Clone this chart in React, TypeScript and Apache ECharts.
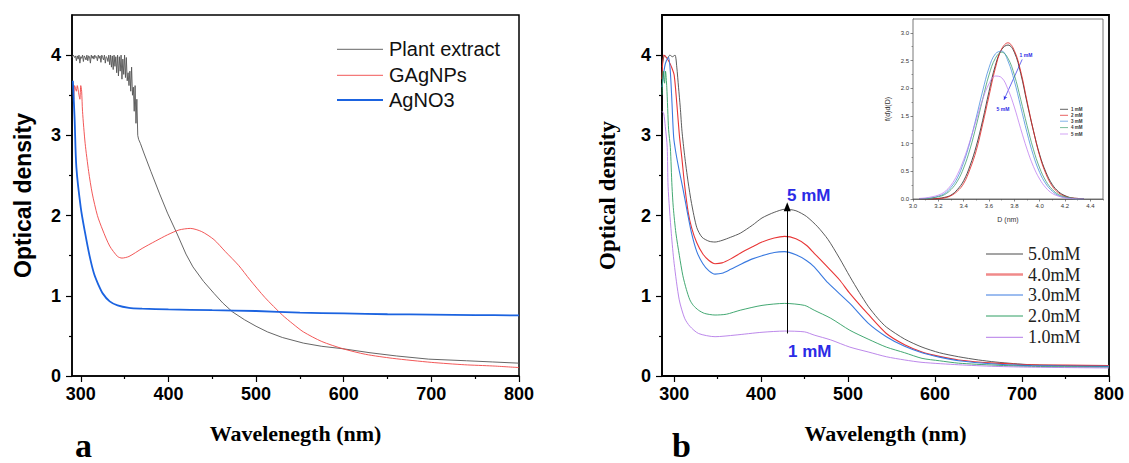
import React, { useEffect, useRef } from "react";
import * as echarts from "echarts";

const SANS = "'Liberation Sans', Arial, sans-serif";
const SERIF = "'Liberation Serif', 'Times New Roman', serif";

// ---------- Panel a ----------
const wlPlant = [290, 291.5, 293, 294, 295, 296, 297, 298, 299, 300, 301, 302, 303, 304, 305, 306, 307, 308, 309, 310, 311, 312, 313, 314, 315, 316, 317, 318, 319, 320, 321, 322, 323, 324, 325, 326, 327, 328, 329, 330, 331, 332, 333, 334, 335, 336, 337, 338, 339, 340, 341, 342, 343, 344, 345, 346, 347, 348, 349, 350, 351, 352, 353, 354, 355, 356, 357, 358, 359, 360, 361, 362, 363, 364, 365, 366, 368, 372, 380, 390, 399, 410, 420, 428, 440, 452, 462, 473, 487, 500, 513, 530, 554, 575, 599, 630, 660, 697, 740, 770, 800];
const odPlant = [3.97, 4.0, 3.97, 3.99, 3.93, 3.99, 3.95, 4.0, 3.9, 3.98, 3.96, 4.0, 3.92, 3.99, 3.97, 3.94, 4.0, 3.93, 3.99, 3.98, 3.9, 4.0, 3.96, 3.99, 3.95, 4.0, 3.97, 3.98, 3.93, 4.0, 3.96, 3.99, 3.91, 4.0, 3.97, 3.94, 4.0, 3.9, 3.98, 3.97, 3.92, 4.0, 3.88, 4.0, 3.85, 3.99, 3.82, 4.0, 3.86, 3.98, 3.78, 4.0, 3.74, 3.98, 3.8, 4.0, 3.7, 3.95, 3.76, 4.0, 3.72, 3.97, 3.68, 3.78, 3.62, 3.8, 3.55, 3.85, 3.5, 3.6, 3.3, 3.62, 3.15, 3.45, 3.0, 2.95, 2.9, 2.78, 2.55, 2.27, 2.03, 1.77, 1.52, 1.36, 1.18, 1.03, 0.91, 0.8, 0.7, 0.62, 0.55, 0.48, 0.41, 0.37, 0.34, 0.29, 0.25, 0.21, 0.19, 0.175, 0.16];

const wlGAg = [292, 293, 295, 296, 298, 299, 300, 301, 302, 305, 309, 313, 319, 325, 333, 342, 347, 355, 370, 385, 399, 412, 425, 438, 452, 465, 480, 493, 510, 530, 542, 554, 575, 599, 625, 656, 700, 738, 770, 800];
const odGAg = [3.45, 3.62, 3.55, 3.62, 3.5, 3.45, 3.62, 3.55, 3.3, 2.9, 2.55, 2.28, 2.0, 1.82, 1.62, 1.49, 1.47, 1.49, 1.59, 1.68, 1.76, 1.82, 1.84, 1.8, 1.7, 1.55, 1.38, 1.2, 0.98, 0.76, 0.65, 0.55, 0.43, 0.34, 0.27, 0.22, 0.17, 0.14, 0.125, 0.105];

const wlAgNO3 = [291, 293, 295, 300, 305, 310, 315, 320, 325, 333, 342, 355, 370, 400, 450, 500, 550, 600, 650, 700, 750, 800];
const odAgNO3 = [3.68, 3.2, 2.6, 2.1, 1.78, 1.5, 1.28, 1.14, 1.03, 0.93, 0.88, 0.85, 0.84, 0.83, 0.82, 0.81, 0.79, 0.78, 0.77, 0.765, 0.76, 0.755];

// ---------- Panel b ----------
const wl5 = [286, 289, 292, 295, 298, 301, 303, 305, 307, 309, 312, 316, 320, 326, 332, 340, 347, 355, 365, 376, 390, 401, 415, 428, 440, 452, 465, 477, 490, 502, 513, 523, 534, 544, 565, 585, 605, 627, 650, 669, 690, 711, 750, 800];
const od5 = [3.85, 4.0, 3.96, 4.0, 3.98, 4.0, 3.85, 3.6, 3.35, 3.05, 2.75, 2.42, 2.15, 1.85, 1.73, 1.68, 1.67, 1.69, 1.73, 1.78, 1.88, 1.97, 2.04, 2.08, 2.06, 1.99, 1.86, 1.7, 1.47, 1.24, 1.04, 0.87, 0.72, 0.61, 0.46, 0.36, 0.29, 0.24, 0.2, 0.175, 0.155, 0.14, 0.13, 0.12];

const wl4 = [286, 288, 291, 294, 297, 300, 303, 306, 309, 312, 316, 320, 326, 333, 340, 347, 355, 365, 376, 390, 401, 415, 427, 440, 452, 461, 477, 490, 502, 523, 544, 565, 585, 605, 627, 669, 711, 750, 800];
const od4 = [3.7, 4.0, 3.97, 3.92, 3.85, 3.75, 3.4, 3.0, 2.7, 2.38, 2.05, 1.85, 1.66, 1.52, 1.44, 1.4, 1.41, 1.46, 1.53, 1.61, 1.67, 1.72, 1.74, 1.71, 1.63, 1.53, 1.35, 1.2, 1.03, 0.77, 0.53, 0.39, 0.3, 0.245, 0.2, 0.16, 0.14, 0.135, 0.13];

const wl3 = [286, 289, 291, 293.6, 295.6, 297.5, 299.4, 302, 306, 310, 315, 320, 326, 333, 340, 347, 355, 365, 376, 390, 401, 415, 427, 440, 452, 461, 477, 502, 523, 544, 565, 585, 605, 627, 669, 711, 800];
const od3 = [3.6, 3.85, 3.93, 3.97, 3.79, 3.4, 2.98, 2.78, 2.55, 2.34, 2.05, 1.78, 1.55, 1.4, 1.31, 1.27, 1.28, 1.33, 1.39, 1.46, 1.5, 1.54, 1.55, 1.51, 1.44, 1.36, 1.16, 0.905, 0.66, 0.49, 0.37, 0.29, 0.235, 0.19, 0.15, 0.13, 0.12];

const wl2 = [286, 287.5, 289, 290, 291.5, 293.6, 295.6, 297.5, 299, 302, 306, 310, 314, 318, 322, 328, 335, 347, 360, 376, 401, 427, 450, 461, 480, 502, 523, 544, 565, 585, 605, 627, 669, 711, 800];
const od2 = [3.5, 3.8, 3.65, 3.8, 3.6, 3.07, 2.85, 2.36, 2.1, 1.78, 1.5, 1.25, 1.08, 0.95, 0.88, 0.82, 0.78, 0.76, 0.77, 0.82, 0.88, 0.905, 0.88, 0.82, 0.72, 0.57, 0.46, 0.36, 0.29, 0.22, 0.19, 0.16, 0.135, 0.12, 0.11];

const wl1 = [286, 288, 289.8, 292, 293, 296.7, 300, 305.8, 312, 318, 328, 347, 370, 401, 427, 450, 461, 480, 502, 523, 544, 565, 585, 627, 669, 711, 800];
const od1 = [3.3, 3.27, 3.11, 2.85, 2.36, 1.78, 1.4, 0.95, 0.72, 0.62, 0.53, 0.49, 0.51, 0.545, 0.56, 0.55, 0.51, 0.45, 0.36, 0.3, 0.24, 0.2, 0.17, 0.14, 0.12, 0.11, 0.1];

// ---------- Inset ----------
const dGrid = [3.05, 3.1, 3.15, 3.2, 3.25, 3.3, 3.35, 3.4, 3.45, 3.5, 3.55, 3.6, 3.65, 3.7, 3.75, 3.8, 3.85, 3.9, 3.95, 4.0, 4.05, 4.1, 4.15, 4.2, 4.25, 4.3, 4.35];
const f1 = [0, 0, 0, 0.01, 0.03, 0.07, 0.17, 0.33, 0.6, 0.96, 1.42, 1.94, 2.41, 2.7, 2.78, 2.65, 2.27, 1.74, 1.24, 0.8, 0.48, 0.26, 0.13, 0.06, 0.02, 0.01, 0];
const f2 = [0, 0, 0, 0.01, 0.02, 0.06, 0.14, 0.28, 0.54, 0.88, 1.35, 1.86, 2.36, 2.71, 2.82, 2.68, 2.31, 1.77, 1.24, 0.78, 0.45, 0.23, 0.11, 0.05, 0.02, 0.01, 0];
const f3 = [0, 0.01, 0.02, 0.05, 0.1, 0.21, 0.38, 0.66, 1.03, 1.48, 1.95, 2.37, 2.62, 2.67, 2.49, 2.13, 1.67, 1.2, 0.79, 0.48, 0.27, 0.14, 0.06, 0.03, 0.01, 0, 0];
const f4 = [0, 0, 0.02, 0.04, 0.08, 0.17, 0.32, 0.56, 0.9, 1.33, 1.8, 2.24, 2.54, 2.65, 2.54, 2.24, 1.8, 1.33, 0.9, 0.56, 0.32, 0.17, 0.08, 0.04, 0.02, 0, 0];
const f5 = [0.01, 0.02, 0.04, 0.07, 0.13, 0.25, 0.44, 0.71, 1.05, 1.43, 1.8, 2.08, 2.22, 2.19, 1.98, 1.66, 1.27, 0.9, 0.59, 0.36, 0.2, 0.1, 0.05, 0.02, 0.01, 0, 0];

// ticks
const xTicks = [300, 400, 500, 600, 700, 800];
const xMinor = [350, 450, 550, 650, 750];
const yTicks = [0, 1, 2, 3, 4];
const yMinor = [0.5, 1.5, 2.5, 3.5];
const dTicks = [3.0, 3.2, 3.4, 3.6, 3.8, 4.0, 4.2, 4.4];
const dMinor = [3.1, 3.3, 3.5, 3.7, 3.9, 4.1, 4.3, 4.5];
const fTicks = [0, 0.5, 1.0, 1.5, 2.0, 2.5, 3.0];
const fMinor = [0.25, 0.75, 1.25, 1.75, 2.25, 2.75];

const namesA = ["Plant extract", "GAgNPs", "AgNO3"];
const colorsA = ["#555555", "#f04545", "#1b63e0"];
const widthsA = [0.9, 0.9, 1.8];

const namesB = ["5.0mM", "4.0mM", "3.0mM", "2.0mM", "1.0mM"];
const colorsB = ["#4a4a4a", "#e83535", "#3a7ae0", "#2e9e62", "#b47be8"];
const widthsB = [0.9, 1.1, 1.1, 0.9, 0.9];

const namesC = ["1 mM", "2 mM", "3 mM", "4 mM", "5 mM"];
const colorsC = ["#222222", "#e02020", "#4a90e0", "#40a070", "#c080f0"];

const zip = (xs: number[], ys: number[]) => xs.map((x, i) => [x, ys[i]]);

function majorAxis(gridIndex: number, min: number, max: number, ticks: number[], opts: any) {
  return {
    gridIndex,
    type: "value",
    min,
    max,
    position: opts.position,
    axisLine: { show: true, onZero: false, lineStyle: { color: opts.lineColor || "#000", width: opts.lineWidth || 1.5 } },
    axisTick: { show: true, inside: false, length: opts.tickLen, customValues: ticks, lineStyle: { color: opts.lineColor || "#000", width: opts.tickWidth || 1.2 } },
    axisLabel: {
      show: true,
      customValues: ticks,
      margin: opts.margin,
      fontFamily: SANS,
      fontWeight: opts.labelWeight || "bold",
      fontSize: opts.labelSize,
      color: opts.labelColor || "#000",
      formatter: opts.formatter,
    },
    splitLine: { show: false },
    name: opts.name,
    nameLocation: "middle",
    nameGap: opts.nameGap,
    nameTextStyle: opts.nameStyle,
  };
}

function minorAxis(gridIndex: number, min: number, max: number, ticks: number[], position: string, len: number, color = "#000", width = 1.2) {
  return {
    gridIndex,
    type: "value",
    min,
    max,
    position,
    axisLine: { show: false, onZero: false },
    axisTick: { show: true, inside: false, length: len, customValues: ticks, lineStyle: { color, width } },
    axisLabel: { show: false },
    splitLine: { show: false },
  };
}

const lineSeries = (name: string, data: number[][], xi: number, color: string, width: number, smooth: number | boolean, extra: any = {}) => ({
  name,
  type: "line",
  xAxisIndex: xi,
  yAxisIndex: xi,
  data,
  symbol: "none",
  showSymbol: false,
  smooth,
  silent: true,
  lineStyle: { color, width },
  emphasis: { disabled: true },
  ...extra,
});

const rowsA = [49.3, 75.3, 100];
const rowsB = [254, 274.5, 295, 316, 337.3];
const rowsC = [109.3, 115.3, 121.2, 127.6, 134];

const graphic: any[] = [
  { type: "text", z: 100, x: 75, y: 445, style: { text: "a", font: `bold 34px ${SERIF}`, fill: "#000", verticalAlign: "middle" } },
  { type: "text", z: 100, x: 672, y: 445, style: { text: "b", font: `bold 34px ${SERIF}`, fill: "#000", verticalAlign: "middle" } },
  { type: "text", z: 100, x: 787, y: 195, style: { text: "5 mM", font: `bold 17px ${SANS}`, fill: "#2b2be6", verticalAlign: "middle" } },
  { type: "text", z: 100, x: 788, y: 351, style: { text: "1 mM", font: `bold 17px ${SANS}`, fill: "#2b2be6", verticalAlign: "middle" } },
  { type: "text", z: 100, x: 1026, y: 54.5, style: { text: "1 mM", font: `bold 5px ${SANS}`, fill: "#2b2be6", align: "center", verticalAlign: "middle" } },
  { type: "text", z: 100, x: 1003, y: 108.5, style: { text: "5 mM", font: `bold 5px ${SANS}`, fill: "#2b2be6", align: "center", verticalAlign: "middle" } },
];
namesA.forEach((n, i) => {
  graphic.push({ type: "line", z: 100, shape: { x1: 337, y1: rowsA[i], x2: 383, y2: rowsA[i] }, style: { stroke: colorsA[i], lineWidth: widthsA[i] } });
  graphic.push({ type: "text", z: 100, x: 389, y: rowsA[i], style: { text: n, font: `20px ${SANS}`, fill: "#111", verticalAlign: "middle" } });
});
namesB.forEach((n, i) => {
  graphic.push({ type: "line", z: 100, shape: { x1: 986, y1: rowsB[i], x2: 1023, y2: rowsB[i] }, style: { stroke: i === 1 ? "#f08a8a" : colorsB[i], lineWidth: i === 1 ? 2.6 : 1 } });
  graphic.push({ type: "text", z: 100, x: 1028, y: rowsB[i], style: { text: n, font: `18px ${SERIF}`, fill: "#222", verticalAlign: "middle" } });
});
namesC.forEach((n, i) => {
  graphic.push({ type: "line", z: 100, shape: { x1: 1060, y1: rowsC[i], x2: 1068, y2: rowsC[i] }, style: { stroke: colorsC[i], lineWidth: 0.7 } });
  graphic.push({ type: "text", z: 100, x: 1071, y: rowsC[i], style: { text: n, font: `bold 4.5px ${SANS}`, fill: "#333", verticalAlign: "middle" } });
});

const mainNameSerif = { fontFamily: SERIF, fontWeight: "bold", fontSize: 22, color: "#000" };

const option: any = {
  animation: false,
  backgroundColor: "#ffffff",
  grid: [
    { left: 72, top: 15, width: 447, height: 361, show: true, borderColor: "#000", borderWidth: 1.5, backgroundColor: "transparent", containLabel: false, outerBoundsMode: "none" },
    { left: 662, top: 15, width: 447, height: 361, show: true, borderColor: "#000", borderWidth: 1.8, backgroundColor: "transparent", containLabel: false, outerBoundsMode: "none" },
    { left: 913, top: 19, width: 190, height: 180, show: true, borderColor: "#555", borderWidth: 0.8, backgroundColor: "#fff", containLabel: false, outerBoundsMode: "none", z: 5 },
  ],
  xAxis: [
    majorAxis(0, 290, 800, xTicks, { position: "bottom", tickLen: 6, margin: 9, labelSize: 18, name: "Wavelenegth (nm)", nameGap: 46, nameStyle: mainNameSerif }),
    minorAxis(0, 290, 800, xMinor, "bottom", 3),
    majorAxis(1, 286, 800, xTicks, { position: "bottom", tickLen: 6, margin: 9, labelSize: 18, name: "Wavelength (nm)", nameGap: 46, nameStyle: mainNameSerif }),
    minorAxis(1, 286, 800, xMinor, "bottom", 3),
    majorAxis(2, 3.0, 4.5, dTicks, {
      position: "bottom", tickLen: 2.5, margin: 4, labelSize: 6, labelWeight: "normal", labelColor: "#333", lineColor: "#555", lineWidth: 0.8, tickWidth: 0.7,
      formatter: (v: number) => v.toFixed(1), name: "D (nm)", nameGap: 17,
      nameStyle: { fontFamily: SANS, fontSize: 7, color: "#333" },
    }),
    minorAxis(2, 3.0, 4.5, dMinor, "bottom", 1.5, "#555", 0.6),
  ],
  yAxis: [
    majorAxis(0, 0, 4.5, yTicks, { position: "left", tickLen: 6, margin: 11, labelSize: 18, name: "Optical density", nameGap: 38, nameStyle: { fontFamily: SANS, fontWeight: "bold", fontSize: 23, color: "#000" } }),
    minorAxis(0, 0, 4.5, yMinor, "left", 3),
    majorAxis(1, 0, 4.5, yTicks, { position: "left", tickLen: 6, margin: 11, labelSize: 18, name: "Optical density", nameGap: 43, nameStyle: { fontFamily: SERIF, fontWeight: "bold", fontSize: 23, color: "#000" } }),
    minorAxis(1, 0, 4.5, yMinor, "left", 3),
    majorAxis(2, 0, 3.25, fTicks, {
      position: "left", tickLen: 2.5, margin: 4, labelSize: 6, labelWeight: "normal", labelColor: "#333", lineColor: "#555", lineWidth: 0.8, tickWidth: 0.7,
      formatter: (v: number) => v.toFixed(1), name: "f(d)d(D)", nameGap: 22,
      nameStyle: { fontFamily: SANS, fontSize: 7, color: "#333" },
    }),
    minorAxis(2, 0, 3.25, fMinor, "left", 1.5, "#555", 0.6),
  ],
  series: [
    lineSeries(namesA[0], zip(wlPlant, odPlant), 0, colorsA[0], widthsA[0], false),
    lineSeries(namesA[1], zip(wlGAg, odGAg), 0, colorsA[1], widthsA[1], 0.25),
    lineSeries(namesA[2], zip(wlAgNO3, odAgNO3), 0, colorsA[2], widthsA[2], 0.3),

    lineSeries(namesB[0], zip(wl5, od5), 2, colorsB[0], widthsB[0], 0.25, {
      markLine: {
        silent: true,
        symbol: ["none", "triangle"],
        symbolSize: [7, 9],
        label: { show: false },
        lineStyle: { color: "#000", width: 1, type: "solid" },
        data: [[{ coord: [430, 0.53] }, { coord: [430, 2.11] }]],
      },
    }),
    lineSeries(namesB[1], zip(wl4, od4), 2, colorsB[1], widthsB[1], 0.25),
    lineSeries(namesB[2], zip(wl3, od3), 2, colorsB[2], widthsB[2], 0.25),
    lineSeries(namesB[3], zip(wl2, od2), 2, colorsB[3], widthsB[3], 0.25),
    lineSeries(namesB[4], zip(wl1, od1), 2, colorsB[4], widthsB[4], 0.25),

    lineSeries(namesC[0], zip(dGrid, f1), 4, colorsC[0], 0.8, 0.4, { z: 6 }),
    lineSeries(namesC[1], zip(dGrid, f2), 4, colorsC[1], 0.8, 0.4, { z: 6 }),
    lineSeries(namesC[2], zip(dGrid, f3), 4, colorsC[2], 0.8, 0.4, { z: 6 }),
    lineSeries(namesC[3], zip(dGrid, f4), 4, colorsC[3], 0.8, 0.4, { z: 6 }),
    lineSeries(namesC[4], zip(dGrid, f5), 4, colorsC[4], 0.8, 0.4, {
      z: 6,
      markLine: {
        silent: true,
        symbol: ["none", "arrow"],
        symbolSize: [3, 4],
        label: { show: false },
        lineStyle: { color: "#2b2be6", width: 0.7, type: "solid" },
        data: [[{ coord: [3.862, 2.52] }, { coord: [3.718, 1.79] }]],
      },
    }),
  ],
  graphic,
};

export default function App() {
  const ref = useRef<HTMLDivElement>(null);
  useEffect(() => {
    if (!ref.current) return;
    const chart = echarts.init(ref.current, null, { renderer: "svg" });
    chart.setOption(option);
    return () => chart.dispose();
  }, []);
  return (
    <div
      ref={ref}
      style={{ position: "fixed", left: 0, top: 0, width: 1129, height: 463, background: "#fff" }}
    />
  );
}
